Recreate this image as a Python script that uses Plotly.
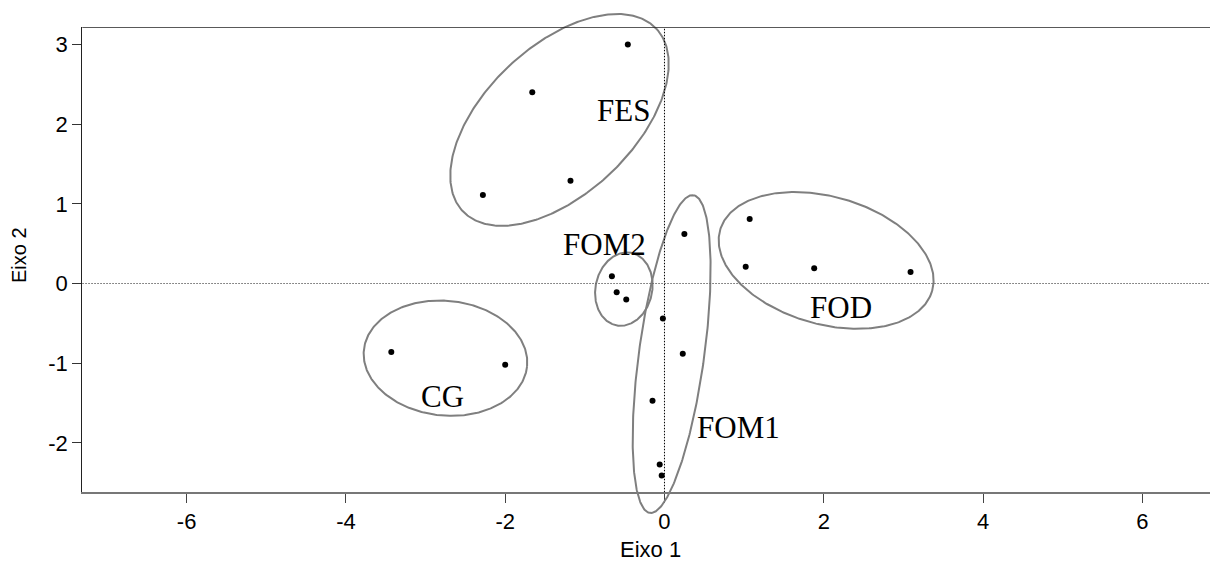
import numpy as np
import plotly.graph_objects as go

# ---------------- data ----------------
groups = ["CG", "FES", "FOM2", "FOM1", "FOD"]

cg_x = [-3.43, -2.00]
cg_y = [-0.86, -1.02]

fes_x = [-0.46, -1.66, -1.18, -2.28]
fes_y = [3.00, 2.40, 1.29, 1.11]

fom2_x = [-0.66, -0.60, -0.48]
fom2_y = [0.09, -0.11, -0.20]

fom1_x = [0.25, -0.02, 0.23, -0.15, -0.06, -0.035]
fom1_y = [0.62, -0.44, -0.88, -1.47, -2.27, -2.41]

fod_x = [1.07, 1.02, 1.88, 3.09]
fod_y = [0.81, 0.21, 0.19, 0.145]

# ellipse parameters: centre x, centre y, semi-major, semi-minor, angle (deg)
ell_cx = [-2.75, -1.318, -0.51, 0.09, 2.03]
ell_cy = [-0.937, 2.053, -0.07, -0.885, 0.29]
ell_a = [1.03, 1.67, 0.465, 2.012, 1.385]
ell_b = [0.72, 0.927, 0.356, 0.41, 0.80]
ell_ang = [-5.7, 43.3, 78.0, 82.2, -16.0]

# group labels
lab_x = [-2.785, -0.52, -0.75, 0.93, 2.22]
lab_y = [-1.42, 2.17, 0.49, -1.81, -0.305]

x_ticks = [-6, -4, -2, 0, 2, 4, 6]
y_ticks = [-2, -1, 0, 1, 2, 3]
x_title = "Eixo 1"
y_title = "Eixo 2"

# ---------------- layout geometry ----------------
W, H = 1210, 563
L_PX, R_PX, T_PX, B_PX = 82.3, 1210.0, 27.3, 492.3
XR = [-7.31, 6.85]
YR = [-2.62, 3.215]

sx = (R_PX - L_PX) / (XR[1] - XR[0])
sy = (B_PX - T_PX) / (YR[1] - YR[0])
XR2 = [XR[0] - L_PX / sx, XR[1] + (W - R_PX) / sx]
YR2 = [YR[0] - (H - B_PX) / sy, YR[1] + T_PX / sy]

fig = go.Figure()

# ellipses (on a full-page overlay axis pair so they are not clipped)
t = np.linspace(0, 2 * np.pi, 361)
for cx, cy, a, b, ang in zip(ell_cx, ell_cy, ell_a, ell_b, ell_ang):
    th = np.deg2rad(ang)
    ex = cx + a * np.cos(t) * np.cos(th) - b * np.sin(t) * np.sin(th)
    ey = cy + a * np.cos(t) * np.sin(th) + b * np.sin(t) * np.cos(th)
    fig.add_trace(go.Scatter(x=ex, y=ey, mode="lines", xaxis="x2", yaxis="y2",
                             line=dict(color="#7f7f7f", width=2),
                             hoverinfo="skip", showlegend=False))

all_x = [cg_x, fes_x, fom2_x, fom1_x, fod_x]
all_y = [cg_y, fes_y, fom2_y, fom1_y, fod_y]
for g, xs, ys in zip(groups, all_x, all_y):
    fig.add_trace(go.Scatter(x=xs, y=ys, mode="markers", name=g,
                             marker=dict(color="black", size=6),
                             showlegend=False, cliponaxis=False))

for g, lx, ly in zip(groups, lab_x, lab_y):
    fig.add_annotation(x=lx, y=ly, xref="x", yref="y", text=g, showarrow=False,
                       xanchor="center", yanchor="middle",
                       font=dict(family="Liberation Serif", size=31, color="black"))

# reference lines
fig.add_shape(type="line", xref="paper", yref="y", x0=L_PX / W, x1=1, y0=0, y1=0,
              line=dict(color="#666666", width=1, dash="1.5px,1.5px"))
fig.add_shape(type="line", xref="x", yref="y", x0=0, x1=0, y0=YR[0], y1=YR[1],
              line=dict(color="black", width=1, dash="1.5px,1.5px"))
# top frame line
fig.add_shape(type="line", xref="paper", yref="y", x0=L_PX / W, x1=1, y0=YR[1], y1=YR[1],
              line=dict(color="#222222", width=1.2))

# axis titles
fig.add_annotation(xref="paper", yref="paper", x=650 / W, y=(H - 549) / H, text=x_title,
                   xanchor="center", yanchor="middle",
                   showarrow=False, font=dict(family="Liberation Sans", size=22, color="black"))
fig.add_annotation(xref="paper", yref="paper", x=19 / W, y=(H - 255) / H, text=y_title,
                   xanchor="center", yanchor="middle",
                   textangle=-90, showarrow=False,
                   font=dict(family="Liberation Sans", size=20, color="black"))

axfont = dict(family="Liberation Sans", size=22, color="black")
fig.update_layout(
    width=W, height=H,
    margin=dict(l=0, r=0, t=0, b=0, autoexpand=False),
    paper_bgcolor="white", plot_bgcolor="rgba(0,0,0,0)",
    xaxis=dict(domain=[L_PX / W, R_PX / W], range=XR, anchor="y",
               showgrid=False, zeroline=False, showline=True, linecolor="#777777", linewidth=1.5,
               ticks="outside", ticklen=9, tickcolor="#444444", tickwidth=1,
               tickvals=x_ticks, ticktext=[str(v) for v in x_ticks], tickfont=axfont),
    yaxis=dict(domain=[(H - B_PX) / H, (H - T_PX) / H], range=YR, anchor="x",
               showgrid=False, zeroline=False, showline=True, linecolor="#222222", linewidth=1.2,
               ticks="outside", ticklen=9, tickcolor="#333333", tickwidth=1,
               tickvals=y_ticks, ticktext=[str(v) for v in y_ticks], tickfont=axfont),
    xaxis2=dict(domain=[0, 1], range=XR2, anchor="y2", visible=False),
    yaxis2=dict(domain=[0, 1], range=YR2, anchor="x2", visible=False),
)

fig.write_html("out.html", config={"displayModeBar": False},
               post_script="document.body.style.margin='0px';document.body.style.overflow='hidden';")
